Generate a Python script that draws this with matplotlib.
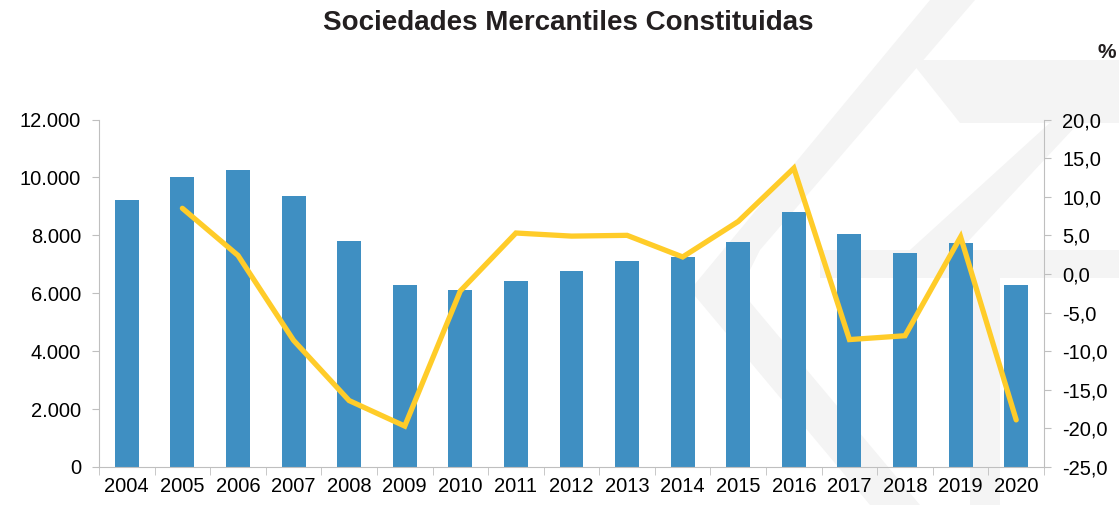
import matplotlib.pyplot as plt
from matplotlib.patches import Polygon
import numpy as np

# Data
years = ['2004', '2005', '2006', '2007', '2008', '2009', '2010', '2011', '2012',
         '2013', '2014', '2015', '2016', '2017', '2018', '2019', '2020']
sociedades = [9230, 10020, 10250, 9360, 7815, 6270, 6120, 6430, 6780,
              7110, 7260, 7760, 8810, 8045, 7400, 7735, 6280]
variacion = [None, 8.5, 2.4, -8.6, -16.4, -19.7, -2.2, 5.3, 4.9,
             5.0, 2.2, 6.8, 13.7, -8.5, -8.0, 4.8, -18.9]

ytick_left = [0, 2000, 4000, 6000, 8000, 10000, 12000]
ytick_right = [-25, -20, -15, -10, -5, 0, 5, 10, 15, 20]

bar_color = '#3F8FC2'
line_color = '#FFCC29'
axis_color = '#BFBFBF'

plt.rcParams['font.family'] = ['Liberation Sans', 'DejaVu Sans']

fig = plt.figure(figsize=(11.19, 5.05), dpi=100)
W, H = 1119.0, 505.0

# faint watermark, drawn in a background axes (pixel coords, y down)
bg = fig.add_axes([0, 0, 1, 1], zorder=-10)
bg.set_xlim(0, W)
bg.set_ylim(H, 0)
bg.axis('off')

def wm(points):
    bg.add_patch(Polygon(points, closed=True, facecolor='#F4F4F4', edgecolor='none'))

wm([(930, 0), (975, 0), (760, 250), (740, 290), (920, 505), (870, 505), (690, 290)])
wm([(1119, 60), (1119, 80), (960, 250), (910, 250)])
wm([(910, 60), (1119, 60), (1119, 123), (960, 123)])
wm([(820, 250), (1119, 250), (1119, 278), (820, 278)])
wm([(970, 278), (1000, 278), (1000, 505), (970, 505)])

ax = fig.add_axes([99 / W, 1 - 467 / H, (1044 - 99) / W, (467 - 119.5) / H])
ax.patch.set_alpha(0)
x = np.arange(len(years))

ax.bar(x, sociedades, width=0.43, color=bar_color, zorder=2)
ax.set_xlim(-0.5, len(years) - 0.5)
ax.set_ylim(0, 12000)
ax.set_yticks(ytick_left)
ax.set_yticklabels(['{:,}'.format(v).replace(',', '.') for v in ytick_left])
ax.set_xticks(x)
ax.set_xticklabels(years)
ax.set_xticks(np.arange(-0.5, len(years), 1), minor=True)
ax.tick_params(axis='x', which='major', length=0, labelsize=14.5, pad=7)
ax.tick_params(axis='x', which='minor', length=6, color=axis_color, direction='out')
ax.tick_params(axis='y', length=5, color=axis_color, labelsize=14.5, pad=8)

for s in ['top', 'right']:
    ax.spines[s].set_visible(False)
for s in ['left', 'bottom']:
    ax.spines[s].set_color(axis_color)

ax2 = ax.twinx()
vals = np.array([np.nan if v is None else v for v in variacion], dtype=float)
ax2.plot(x, vals, color=line_color, linewidth=3.8, solid_capstyle='round',
         solid_joinstyle='miter', zorder=3)
ax2.set_ylim(-25, 20)
ax2.set_yticks(ytick_right)
ax2.set_yticklabels(['{:.1f}'.format(v).replace('.', ',') for v in ytick_right])
ax2.tick_params(axis='y', length=5, color=axis_color, labelsize=14.5, pad=8)
for s in ['top', 'left', 'bottom']:
    ax2.spines[s].set_visible(False)
ax2.spines['right'].set_color(axis_color)

fig.text(568 / W, 1 - 23 / H, 'Sociedades Mercantiles Constituidas',
         ha='center', va='center', fontsize=20, fontweight='bold', color='#231F20')
fig.text(1107 / W, 1 - 53 / H, '%', ha='center', va='center',
         fontsize=15, fontweight='bold', color='#231F20')

plt.savefig('out.png', dpi=100)
